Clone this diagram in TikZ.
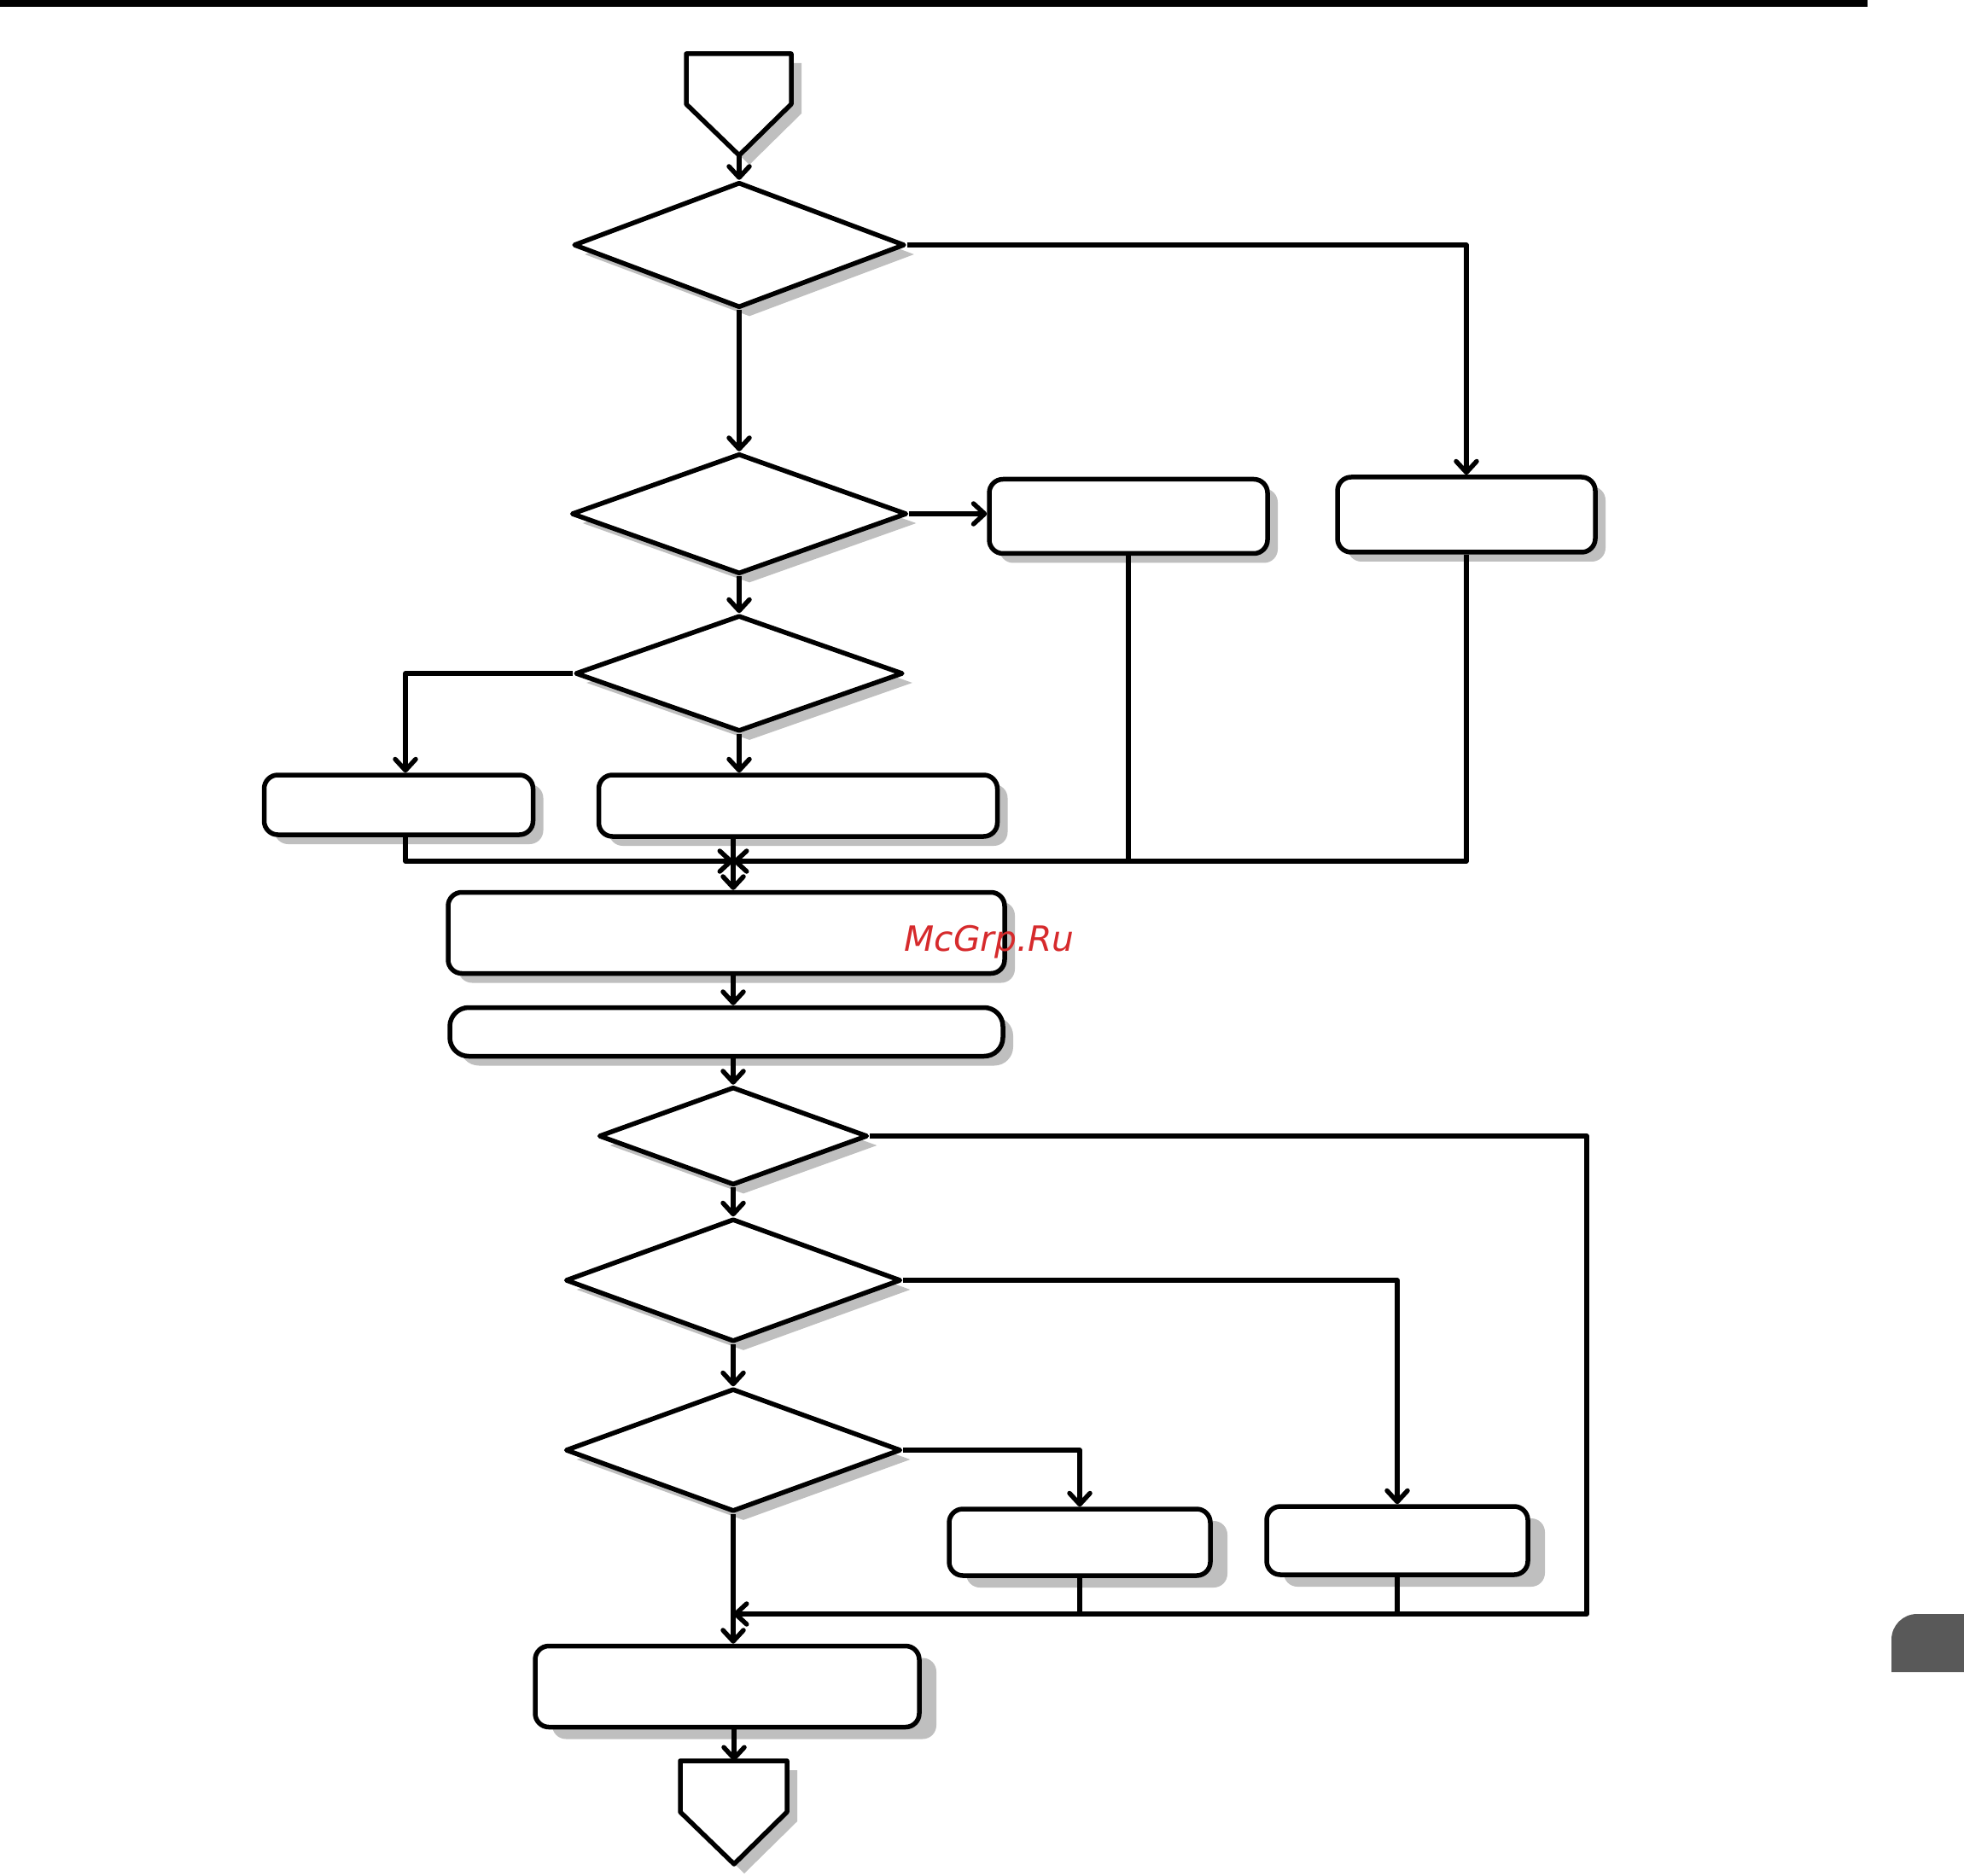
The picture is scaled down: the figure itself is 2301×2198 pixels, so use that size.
\documentclass[tikz,border=0pt]{standalone}
\usepackage{fontspec}
\newfontfamily\markfont{DejaVu Sans}
\usetikzlibrary{shapes.geometric,shadows,arrows.meta}
\definecolor{markred}{HTML}{D62A2C}
\definecolor{tabgray}{HTML}{595959}

\begin{document}
\begin{tikzpicture}[x=0.1mm,y=-0.1mm,line width=0.55mm,line join=round,
    >={Straight Barb[length=1.3mm,width=2.4mm,round]},
    shd/.style={drop shadow={shadow xshift=1.2mm,shadow yshift=-1.1mm,fill=black!25,opacity=1}},
    deepshd/.style={drop shadow={shadow xshift=2mm,shadow yshift=-1.4mm,fill=black!25,opacity=1}},
    box/.style={draw,fill=white,rounded corners=1.6mm,inner sep=0pt},
    dec/.style={diamond,draw,fill=white,inner sep=0pt,shd}]
  \useasboundingbox (0,0) rectangle (2301,2198);
  \fill (0,0) rectangle (2188,8);
  \fill[tabgray] (2301,1959) -- (2216,1959) -- (2216,1921)
    arc[start angle=180,end angle=90,radius=3mm] -- (2301,1891) -- cycle;

  % start and end terminals
  \draw[fill=white,shd] (804,63) -- (927,63) -- (927,122) -- (866,182) coordinate (st)
    -- (804,122) -- cycle;
  \draw[fill=white,shd] (797,2063) -- (860,2063) coordinate (en) -- (922,2063)
    -- (922,2123) -- (860,2184) -- (797,2123) -- cycle;

  % decisions
  \node[dec,minimum width=38.8mm,minimum height=14.7mm] (d1) at (866,287) {};
  \node[dec,minimum width=39.3mm,minimum height=14.1mm] (d2) at (866,602) {};
  \node[dec,minimum width=38.4mm,minimum height=13.6mm] (d3) at (866,789) {};
  \node[dec,minimum width=31.5mm,minimum height=11.5mm] (d4) at (859,1331) {};
  \node[dec,minimum width=39.3mm,minimum height=14.4mm] (d5) at (859,1500) {};
  \node[dec,minimum width=39.3mm,minimum height=14.4mm] (d6) at (859,1699) {};

  % process boxes
  \node[box,shd,minimum width=30.2mm,minimum height=8.8mm] (r1) at (1718,603) {};
  \node[box,shd,minimum width=32.6mm,minimum height=8.7mm] (b2) at (1322,605) {};
  \node[box,shd,minimum width=31.5mm,minimum height=7mm] (b3) at (467,943) {};
  \node[box,shd,minimum width=46.7mm,minimum height=7.2mm] (b4) at (935,944) {};
  \node[box,shd,minimum width=65.2mm,minimum height=9.5mm] (b5) at (851,1093) {};
  \node[box,shd,rounded corners=2.2mm,minimum width=64.8mm,minimum height=5.7mm] (b6) at (851,1209) {};
  \node[box,deepshd,minimum width=30.6mm,minimum height=7.8mm] (b7) at (1265,1807) {};
  \node[box,deepshd,minimum width=30.6mm,minimum height=8mm] (b8) at (1637,1805) {};
  \node[box,deepshd,minimum width=45mm,minimum height=9.5mm] (b9) at (852,1976) {};

  \coordinate (j1) at (859,1009);
  \coordinate (j2) at (859,1891);
  \coordinate (c2) at (1859,1891);

  \draw[->] (st) -- (d1.north);
  \draw[->] (d1.east) -| (r1.north);
  \draw[->] (d1.south) -- (d2.north);
  \draw[->] (d2.east) -- (d2.east -| b2.west);
  \draw[->] (d2.south) -- (d3.north);
  \draw[->] (d3.west) -| ([xshift=0.8mm]b3.north);
  \draw[->] (d3.south) -- (d3.south |- b4.north);
  \draw[->] ([xshift=0.8mm]b3.south) |- (j1);
  \draw[->] (r1.south) |- (j1);
  \draw (b2.south) -- (b2.south |- j1);
  \draw[->] (j1 |- b4.south) -- (j1 |- b5.north);
  \draw[->] (j1 |- b5.south) -- (j1 |- b6.north);
  \draw[->] (d4.north |- b6.south) -- (d4.north);
  \draw[->] (d4.south) -- (d5.north);
  \draw[->] (d5.south) -- (d6.north);
  \draw[->] (d5.east) -| (b8.north);
  \draw[->] (d6.east) -| (b7.north);
  \draw[->] (d4.east) -| (c2) -- (j2);
  \draw (b7.south) -- (b7.south |- j2);
  \draw (b8.south) -- (b8.south |- j2);
  \draw[->] (d6.south) -- (d6.south |- b9.north);
  \draw[->] (en |- b9.south) -- (en);

  \node[font=\markfont\itshape\fontsize{11.6}{14}\selectfont,text=markred,
    anchor=base west,inner sep=0pt] (mark) at (1057,1114) {McGrp.Ru};
\end{tikzpicture}
\end{document}
